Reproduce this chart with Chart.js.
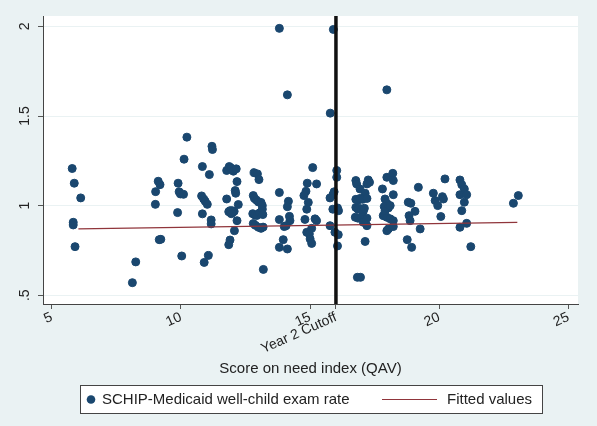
<!DOCTYPE html>
<html>
<head>
<meta charset="utf-8">
<script src="https://cdn.jsdelivr.net/npm/chart.js@4.4.0/dist/chart.umd.min.js"></script>
<style>
  html, body { margin: 0; padding: 0; background: #eaf2f3; }
  canvas { display: block; }
</style>
</head>
<body>
<canvas id="grafik" width="597" height="426"></canvas>
<script>
// nilai (perkiraan)
const qavScores = [
  5.79, 5.87, 6.12, 5.83, 5.83, 5.90,
  8.25, 8.12, 9.12, 9.19, 9.02, 9.01, 9.16, 9.22,
  9.89, 9.87, 9.93, 9.98, 10.10, 10.03, 10.12, 10.23,
  10.83, 11.10, 10.80, 10.88, 10.94, 11.02, 10.83, 11.20, 11.22, 11.17, 11.17, 10.90, 11.06,
  11.77, 11.87, 11.94, 12.03, 12.14, 12.17, 12.10, 12.12, 11.77, 12.22, 11.85, 11.93, 12.00, 12.06, 11.98, 11.90, 11.95, 12.17, 12.07, 11.90, 11.85,
  12.83, 12.96, 13.02, 12.80, 12.85, 12.93, 13.00, 13.10, 13.15, 12.78, 12.86, 12.94, 13.05, 12.80, 12.88, 13.00, 13.10, 13.18, 13.19, 13.15, 13.17,
  13.81, 14.12, 13.81, 13.81, 14.16, 14.12, 14.20, 14.22, 14.00, 14.07, 13.96, 13.81, 14.12,
  15.10, 14.89, 15.25, 14.84, 14.76, 14.93, 14.87, 14.80, 15.19, 15.25, 15.06, 14.87, 14.97, 15.00, 15.06, 15.78,
  15.90, 16.03, 16.03, 15.93, 15.88, 15.77, 15.88, 16.06, 16.10, 15.77, 15.96, 16.09, 16.06,
  16.77, 16.80, 17.25, 17.30, 17.20, 16.93, 17.13, 16.77, 16.85, 16.93, 17.03, 17.20, 16.77, 16.85, 16.90, 17.00, 17.06, 17.10, 16.75, 16.85, 17.00, 17.10, 17.20, 17.20, 17.06, 17.13, 16.83, 16.95,
  17.97, 17.97, 18.20, 18.22, 17.80, 18.22, 17.90, 17.97, 17.87, 18.03, 17.83, 17.97, 18.10, 18.22, 18.03, 18.22, 17.97, 17.90, 18.10,
  19.19, 18.80, 18.90, 19.06, 18.83, 18.87, 19.26, 18.76, 18.93,
  20.22, 19.77, 19.84, 19.94, 20.12, 20.16, 20.06,
  20.80, 20.87, 20.97, 20.80, 21.06, 20.97, 20.87, 20.80, 21.06, 21.22,
  22.87, 23.06
];
const examRates = [
  1.207, 1.125, 1.043, 0.907, 0.892, 0.771,
  0.686, 0.570, 1.136, 1.117, 1.078, 1.007, 0.810, 0.812,
  1.125, 0.961, 1.077, 1.065, 1.063, 0.719, 1.259, 1.382,
  1.218, 1.173, 1.054, 1.037, 1.024, 1.007, 0.954, 1.331, 1.313, 0.920, 0.898, 0.683, 0.722,
  1.196, 1.218, 1.210, 1.192, 1.205, 1.134, 1.084, 1.069, 1.037, 1.006, 0.966, 0.960, 0.962, 0.968, 0.972, 0.972, 0.955, 0.916, 0.860, 0.808, 0.782,
  1.184, 1.177, 1.145, 1.056, 1.040, 1.030, 1.020, 1.018, 1.000, 0.955, 0.948, 0.945, 0.960, 0.900, 0.890, 0.879, 0.873, 0.880, 0.644, 0.980, 0.950,
  1.989, 1.618, 1.073, 0.922, 1.024, 0.994, 0.940, 0.916, 0.883, 0.888, 0.810, 0.767, 0.758,
  1.212, 1.125, 1.121, 1.080, 1.056, 1.018, 0.980, 0.923, 0.926, 0.916, 0.873, 0.851, 0.842, 0.814, 0.789, 1.516,
  1.983, 1.196, 1.158, 1.077, 1.060, 1.043, 0.980, 0.987, 0.972, 0.888, 0.851, 0.838, 0.775,
  1.140, 1.121, 1.143, 1.130, 1.121, 1.093, 1.069, 1.035, 1.030, 1.040, 1.035, 1.040, 0.990, 0.980, 0.985, 0.975, 0.970, 0.985, 0.935, 0.930, 0.935, 0.925, 0.930, 0.888, 0.907, 0.800, 0.600, 0.600,
  1.646, 1.158, 1.180, 1.140, 1.093, 1.061, 1.037, 1.013, 0.994, 0.987, 0.944, 0.935, 0.926, 0.916, 0.870, 0.883, 0.860, 0.970, 1.000,
  1.102, 1.019, 1.013, 0.968, 0.944, 0.916, 0.870, 0.810, 0.767,
  1.149, 1.069, 1.028, 1.000, 1.050, 1.037, 0.939,
  1.143, 1.117, 1.093, 1.061, 1.061, 1.019, 0.972, 0.879, 0.901, 0.771,
  1.013, 1.056
];
const fitX = [6.03, 23.02];
const fitY = [0.870, 0.907];
const cutoffScore = 16;
const cutoffLabel = "Year 2 Cutoff";
const xTickValues = [5, 10, 15, 16, 20, 25];
const yTickValues = [0.5, 1, 1.5, 2];
const yTickLabels = [".5", "1", "1.5", "2"];
const xTitle = "Score on need index (QAV)";
const seriesLabel = "SCHIP-Medicaid well-child exam rate";
const fitLabel = "Fitted values";

const X_MIN = 4.66, X_MAX = 25.37, Y_MIN = 0.451, Y_MAX = 2.058;
const FONT = '"Liberation Sans", Arial, sans-serif';

const stataLook = {
  id: 'stataLook',
  beforeDraw(chart) {
    const { ctx, chartArea: a } = chart;
    ctx.save();
    ctx.fillStyle = '#eaf2f3';
    ctx.fillRect(0, 0, chart.width, chart.height);
    ctx.fillStyle = '#ffffff';
    ctx.fillRect(a.left, a.top, a.right - a.left, a.bottom - a.top);
    ctx.restore();
  },
  afterDraw(chart) {
    const { ctx, chartArea: a } = chart;
    ctx.save();
    ctx.fillStyle = '#222';
    ctx.font = '15px ' + FONT;
    ctx.textBaseline = 'middle';
    ctx.textAlign = 'center';
    ctx.fillText(xTitle, (a.left + a.right) / 2, 369);

    // kotak legenda
    ctx.fillStyle = '#fff';
    ctx.fillRect(80, 385, 462, 28);
    ctx.strokeStyle = '#444';
    ctx.lineWidth = 1;
    ctx.strokeRect(80.5, 385.5, 462, 28);

    ctx.fillStyle = '#1a476f';
    ctx.beginPath();
    ctx.arc(91, 399.5, 4.3, 0, Math.PI * 2);
    ctx.fill();

    ctx.strokeStyle = '#90353b';
    ctx.lineWidth = 1.2;
    ctx.beginPath();
    ctx.moveTo(382, 399.5);
    ctx.lineTo(437, 399.5);
    ctx.stroke();

    ctx.fillStyle = '#222';
    ctx.textAlign = 'left';
    ctx.fillText(seriesLabel, 102, 400);
    ctx.fillText(fitLabel, 447, 400);
    ctx.restore();
  }
};

new Chart(document.getElementById('grafik'), {
  type: 'scatter',
  data: {
    datasets: [
      {
        type: 'line', label: cutoffLabel,
        data: [{ x: cutoffScore, y: Y_MIN }, { x: cutoffScore, y: Y_MAX }],
        borderColor: '#111', borderWidth: 3.5, pointRadius: 0, fill: false
      },
      {
        type: 'line', label: fitLabel,
        data: fitX.map((x, i) => ({ x, y: fitY[i] })),
        borderColor: '#90353b', borderWidth: 1.2, pointRadius: 0, fill: false
      },
      {
        label: seriesLabel,
        data: qavScores.map((x, i) => ({ x, y: examRates[i] })),
        backgroundColor: '#1a476f', borderColor: '#1a476f', borderWidth: 1,
        pointRadius: 4, pointHoverRadius: 4
      }
    ]
  },
  options: {
    responsive: false,
    animation: false,
    layout: { padding: { left: 0, right: 19, top: 16, bottom: 0 } },
    plugins: { legend: { display: false }, tooltip: { enabled: false } },
    scales: {
      x: {
        type: 'linear', min: X_MIN, max: X_MAX,
        afterBuildTicks: s => { s.ticks = xTickValues.map(v => ({ value: v })); },
        afterFit: s => { s.height = 122; },
        grid: { color: 'rgba(0,0,0,0)', tickColor: '#555', tickLength: 5, drawOnChartArea: false },
        border: { color: '#444', width: 1 },
        ticks: {
          minRotation: 24, maxRotation: 24, padding: 0,
          color: '#222', font: { family: FONT, size: 14 },
          callback: v => (v === cutoffScore ? cutoffLabel : String(v))
        }
      },
      y: {
        type: 'linear', min: Y_MIN, max: Y_MAX,
        afterBuildTicks: s => { s.ticks = yTickValues.map(v => ({ value: v })); },
        afterFit: s => { s.width = 43; },
        grid: { color: '#eaf2f3', tickColor: '#555', tickLength: 5 },
        border: { color: '#444', width: 1 },
        ticks: {
          minRotation: 90, maxRotation: 90, padding: 3, crossAlign: 'center',
          color: '#222', font: { family: FONT, size: 14 },
          callback: v => yTickLabels[yTickValues.indexOf(v)] ?? ''
        }
      }
    }
  },
  plugins: [stataLook]
});
</script>
</body>
</html>
